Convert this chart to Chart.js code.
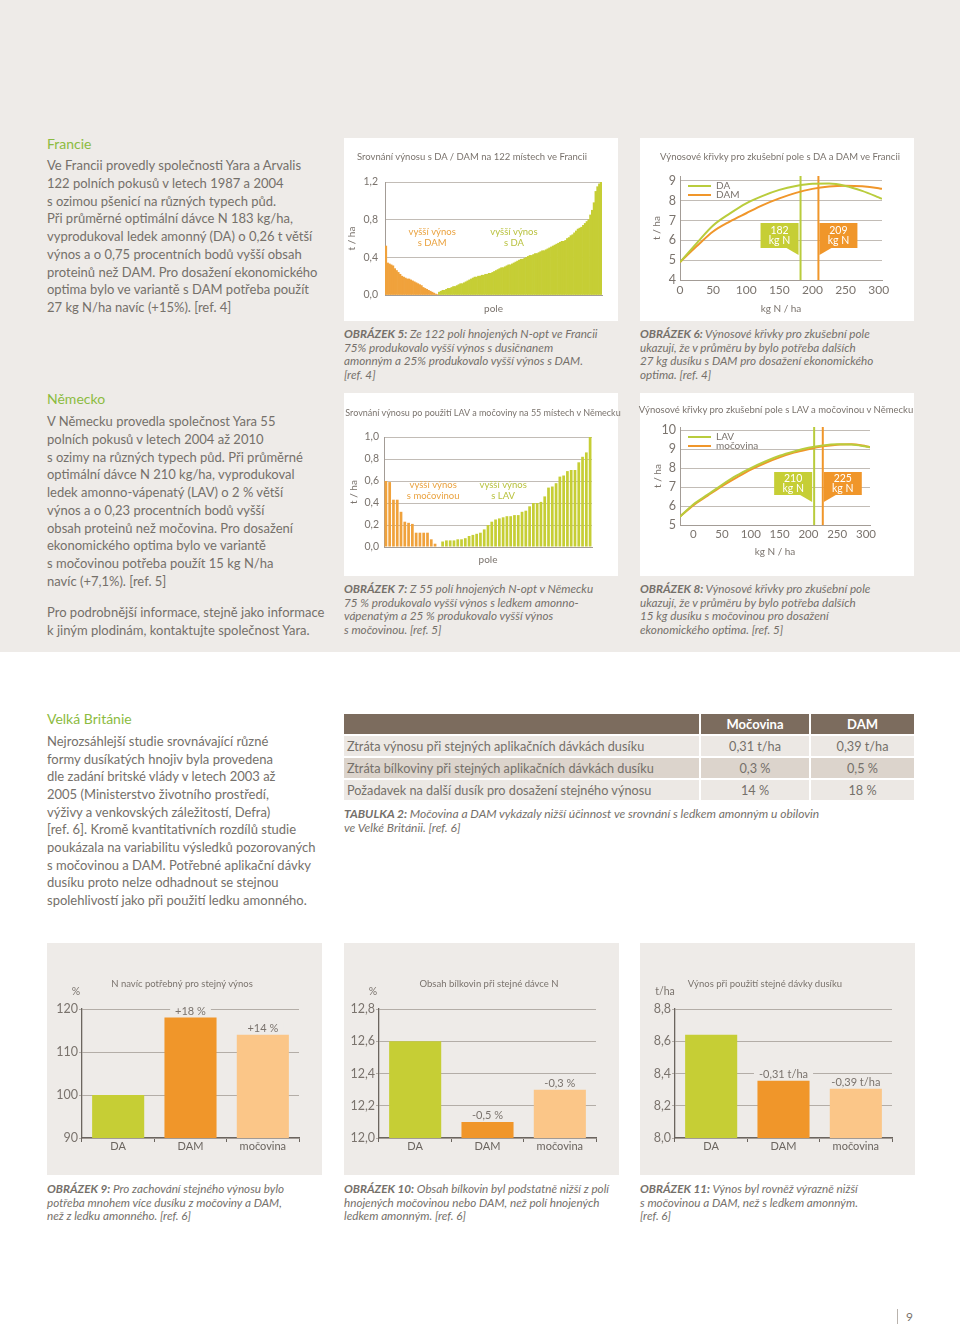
<!DOCTYPE html>
<html lang="cs">
<head>
<meta charset="utf-8">
<title>Močovina a DAM – srovnání s ledkem amonným</title>
<script src="https://cdn.jsdelivr.net/npm/chart.js@4.4.1/dist/chart.umd.min.js"></script>
<style>
  html, body { margin: 0; padding: 0; }
  body {
    width: 960px; height: 1328px; position: relative; overflow: hidden;
    background: #fff; color: #75706a;
    font-family: Lato, "Open Sans", sans-serif;
  }
  .abs { position: absolute; }
  .seda-plocha { left: 0; top: 0; width: 960px; height: 652px; background: #eeebe8; }
  .nadpis { font-size: 14px; line-height: 18px; color: #8cbb41; white-space: nowrap; }
  .text { font-size: 13px; line-height: 17.75px; white-space: nowrap; }
  .panel { background: #fff; }
  .panel-sedy { background: #eeebe8; }
  canvas { display: block; }
  .titulek { font-size: 9.5px; color: #7a736d; white-space: nowrap; transform: translate(-50%, -50%); }
  .jednotka { font-size: 10.5px; color: #7a736d; white-space: nowrap; transform: translate(-50%, -50%); }
  .popis { font-size: 11.7px; line-height: 13.6px; font-style: italic; white-space: nowrap; }
  .popis b { font-weight: bold; }
  .popis.siroky { font-size: 12px; }
  table.tab { border-collapse: separate; border-spacing: 0 2px; font-size: 12.7px; color: #75706a; }
  table.tab td, table.tab th { height: 20px; padding: 0; white-space: nowrap; }
  table.tab th { background: #7c6c5e; color: #fff; font-weight: bold; font-size: 13px; }
  table.tab td.c, table.tab th.c { text-align: center; border-left: 2px solid #fff; }
  table.tab td.l { padding-left: 3px; }
  table.tab tr.svetly td { background: #ece8e4; }
  table.tab tr.tmavy td { background: #dcd4cc; }
  .strana { font-size: 12px; color: #7a736d; }
</style>
</head>
<body>

<div class="abs seda-plocha"></div>

<!-- ── Levý sloupec: Francie / Německo ─────────────────────────── -->
<div class="abs nadpis" style="left:47px; top:135px">Francie</div>
<div class="abs text" style="left:47px; top:157px">Ve Francii provedly společnosti Yara a Arvalis<br>122 polních pokusů v letech 1987 a 2004<br>s ozimou pšenicí na různých typech půd.<br>Při průměrné optimální dávce N 183 kg/ha,<br>vyprodukoval ledek amonný (DA) o 0,26 t větší<br>výnos a o 0,75 procentních bodů vyšší obsah<br>proteinů než DAM. Pro dosažení ekonomického<br>optima bylo ve variantě s DAM potřeba použít<br>27 kg N/ha navíc (+15%). [ref. 4]</div>

<div class="abs nadpis" style="left:47px; top:390px">Německo</div>
<div class="abs text" style="left:47px; top:413px">V Německu provedla společnost Yara 55<br>polních pokusů v letech 2004 až 2010<br>s ozimy na různých typech půd. Při průměrné<br>optimální dávce N 210 kg/ha, vyprodukoval<br>ledek amonno-vápenatý (LAV) o 2 % větší<br>výnos a o 0,23 procentních bodů vyšší<br>obsah proteinů než močovina. Pro dosažení<br>ekonomického optima bylo ve variantě<br>s močovinou potřeba použít 15 kg N/ha<br>navíc (+7,1%). [ref. 5]</div>
<div class="abs text" style="left:47px; top:604px">Pro podrobnější informace, stejně jako informace<br>k jiným plodinám, kontaktujte společnost Yara.</div>

<!-- ── Grafy 5–8 ──────────────────────────────────────────────── -->
<div class="abs panel" style="left:344px; top:138px; width:274px; height:183px"><canvas id="obr5" width="274" height="183"></canvas></div>
<div class="abs panel" style="left:640px; top:138px; width:274px; height:183px"><canvas id="obr6" width="274" height="183"></canvas></div>
<div class="abs panel" style="left:344px; top:393px; width:274px; height:183px"><canvas id="obr7" width="274" height="183"></canvas></div>
<div class="abs panel" style="left:640px; top:393px; width:274px; height:183px"><canvas id="obr8" width="274" height="183"></canvas></div>

<div class="abs titulek" style="left:472px; top:156px">Srovnání výnosu s DA / DAM na 122 místech ve Francii</div>
<div class="abs titulek" style="left:780px; top:156px">Výnosové křivky pro zkušební pole s DA a DAM ve Francii</div>
<div class="abs titulek" style="left:483px; top:412px; font-size:9px">Srovnání výnosu po použití LAV a močoviny na 55 místech v Německu</div>
<div class="abs titulek" style="left:776px; top:409px">Výnosové křivky pro zkušební pole s LAV a močovinou v Německu</div>

<div class="abs popis" style="left:344px; top:327px"><b>OBRÁZEK 5:</b> Ze 122 polí hnojených N-opt ve Francii<br>75% produkovalo vyšší výnos s dusičnanem<br>amonným a 25% produkovalo vyšší výnos s DAM.<br>[ref. 4]</div>
<div class="abs popis" style="left:640px; top:327px"><b>OBRÁZEK 6:</b> Výnosové křivky pro zkušební pole<br>ukazují, že v průměru by bylo potřeba dalších<br>27 kg dusíku s DAM pro dosažení ekonomického<br>optima. [ref. 4]</div>
<div class="abs popis" style="left:344px; top:582px"><b>OBRÁZEK 7:</b> Z 55 polí hnojených N-opt v Německu<br>75 % produkovalo vyšší výnos s ledkem amonno-<br>vápenatým a 25 % produkovalo vyšší výnos<br>s močovinou. [ref. 5]</div>
<div class="abs popis" style="left:640px; top:582px"><b>OBRÁZEK 8:</b> Výnosové křivky pro zkušební pole<br>ukazují, že v průměru by bylo potřeba dalších<br>15 kg dusíku s močovinou pro dosažení<br>ekonomického optima. [ref. 5]</div>

<!-- ── Velká Británie + tabulka ───────────────────────────────── -->
<div class="abs nadpis" style="left:47px; top:710px">Velká Británie</div>
<div class="abs text" style="left:47px; top:733px; line-height:17.67px">Nejrozsáhlejší studie srovnávající různé<br>formy dusíkatých hnojiv byla provedena<br>dle zadání britské vlády v letech 2003 až<br>2005 (Ministerstvo životního prostředí,<br>výživy a venkovských záležitostí, Defra)<br>[ref. 6]. Kromě kvantitativních rozdílů studie<br>poukázala na variabilitu výsledků pozorovaných<br>s močovinou a DAM. Potřebné aplikační dávky<br>dusíku proto nelze odhadnout se stejnou<br>spolehlivostí jako při použití ledku amonného.</div>

<table class="abs tab" style="left:344px; top:712px; width:570px">
  <colgroup><col style="width:355px"><col style="width:110px"><col style="width:105px"></colgroup>
  <tr><th></th><th class="c">Močovina</th><th class="c">DAM</th></tr>
  <tr class="svetly"><td class="l">Ztráta výnosu při stejných aplikačních dávkách dusíku</td><td class="c">0,31 t/ha</td><td class="c">0,39 t/ha</td></tr>
  <tr class="tmavy"><td class="l">Ztráta bílkoviny při stejných aplikačních dávkách dusíku</td><td class="c">0,3 %</td><td class="c">0,5 %</td></tr>
  <tr class="svetly"><td class="l">Požadavek na další dusík pro dosažení stejného výnosu</td><td class="c">14 %</td><td class="c">18 %</td></tr>
</table>
<div class="abs popis siroky" style="left:344px; top:807px"><b>TABULKA 2:</b> Močovina a DAM vykázaly nižší účinnost ve srovnání s ledkem amonným u obilovin<br>ve Velké Británii. [ref. 6]</div>

<!-- ── Grafy 9–11 ─────────────────────────────────────────────── -->
<div class="abs panel-sedy" style="left:47px; top:943px; width:275px; height:232px"><canvas id="obr9" width="275" height="232"></canvas></div>
<div class="abs panel-sedy" style="left:344px; top:943px; width:275px; height:232px"><canvas id="obr10" width="275" height="232"></canvas></div>
<div class="abs panel-sedy" style="left:640px; top:943px; width:275px; height:232px"><canvas id="obr11" width="275" height="232"></canvas></div>

<div class="abs titulek" style="left:182px; top:983px">N navíc potřebný pro stejný výnos</div>
<div class="abs titulek" style="left:489px; top:983px">Obsah bílkovin při stejné dávce N</div>
<div class="abs titulek" style="left:765px; top:983px">Výnos při použití stejné dávky dusíku</div>
<div class="abs jednotka" style="left:76px; top:991px">%</div>
<div class="abs jednotka" style="left:373px; top:991px">%</div>
<div class="abs jednotka" style="left:665px; top:991px">t/ha</div>

<div class="abs popis" style="left:47px; top:1182px"><b>OBRÁZEK 9:</b> Pro zachování stejného výnosu bylo<br>potřeba mnohem více dusíku z močoviny a DAM,<br>než z ledku amonného. [ref. 6]</div>
<div class="abs popis" style="left:344px; top:1182px"><b>OBRÁZEK 10:</b> Obsah bílkovin byl podstatně nižší z polí<br>hnojených močovinou nebo DAM, než polí hnojených<br>ledkem amonným. [ref. 6]</div>
<div class="abs popis" style="left:640px; top:1182px"><b>OBRÁZEK 11:</b> Výnos byl rovněž výrazně nižší<br>s močovinou a DAM, než s ledkem amonným.<br>[ref. 6]</div>

<div class="abs" style="left:897px; top:1309px; width:1px; height:15px; background:#b9b3ad"></div>
<div class="abs strana" style="left:906px; top:1309px">9</div>

<script>
// ── Data ─────────────────────────────────────────────────────────────
// Obr. 5: rozdíl výnosu (t/ha), 122 polí ve Francii, seřazeno
const franceVyssiDAM = [0.52,0.34,0.33,0.32,0.31,0.28,0.26,0.24,0.22,0.20,
  0.19,0.18,0.17,0.17,0.16,0.15,0.14,0.13,0.12,0.11,
  0.10,0.08,0.07,0.06,0.05,0.04,0.03,0.02,0.01,0.005];
const franceVyssiDA = [0.03,0.04,0.05,0.05,0.06,0.07,0.07,0.08,0.09,0.09,
  0.10,0.11,0.12,0.12,0.13,0.14,0.15,0.16,0.17,0.18,
  0.19,0.19,0.20,0.20,0.21,0.21,0.22,0.22,0.23,0.23,
  0.24,0.25,0.26,0.27,0.28,0.29,0.29,0.30,0.31,0.32,
  0.32,0.33,0.34,0.35,0.36,0.37,0.38,0.38,0.39,0.40,
  0.41,0.42,0.42,0.43,0.44,0.44,0.45,0.46,0.47,0.47,
  0.48,0.49,0.50,0.51,0.52,0.53,0.54,0.55,0.56,0.57,
  0.57,0.58,0.60,0.61,0.63,0.64,0.66,0.68,0.70,0.71,
  0.72,0.74,0.76,0.78,0.80,0.85,0.90,0.98,1.10,1.15,
  1.18,1.20];

// Obr. 6: výnosové křivky Francie (t/ha)
const franceDavkaN   = [0, 25, 50, 75, 100, 125, 150, 175, 200, 225, 250, 275, 300, 305];
const franceVynosDA  = [4.9, 5.85, 6.75, 7.35, 7.87, 8.25, 8.55, 8.75, 8.86, 8.87, 8.75, 8.5, 8.17, 8.1];
const franceVynosDAM = [4.9, 5.7, 6.45, 6.95, 7.37, 7.78, 8.12, 8.4, 8.6, 8.72, 8.76, 8.73, 8.63, 8.6];
const franceOptima   = [182, 209];

// Obr. 7: rozdíl výnosu (t/ha), 55 polí v Německu
const nemeckoVyssiMocovina = [0.60,0.59,0.43,0.43,0.32,0.23,0.22,0.21,0.13,0.13,0.13,0.13,0.07,0.03,0.005];
const nemeckoVyssiLAV = [0.05,0.06,0.06,0.06,0.07,0.07,0.08,0.10,0.11,0.12,
  0.13,0.16,0.20,0.23,0.25,0.26,0.27,0.28,0.28,0.29,
  0.29,0.32,0.33,0.37,0.40,0.40,0.41,0.46,0.54,0.55,
  0.58,0.64,0.65,0.69,0.70,0.70,0.77,0.82,0.86,1.00];

// Obr. 8: výnosové křivky Německo (t/ha)
const nemeckoDavkaN        = [-23, 0, 25, 50, 75, 100, 125, 150, 175, 200, 225, 250, 275, 300, 307];
const nemeckoVynosLAV      = [5.44, 6.08, 6.6, 7.12, 7.6, 8.0, 8.35, 8.65, 8.88, 9.07, 9.2, 9.26, 9.25, 9.14, 9.1];
const nemeckoVynosMocovina = [5.44, 6.03, 6.55, 7.05, 7.5, 7.92, 8.27, 8.57, 8.82, 9.0, 9.15, 9.24, 9.26, 9.16, 9.12];
const nemeckoOptima        = [210, 225];

// Obr. 9–11: Velká Británie
const hnojiva          = ['DA', 'DAM', 'močovina'];
const dusikNavic       = [100, 118, 114];
const dusikPopisky     = ['', '+18 %', '+14 %'];
const bilkoviny        = [12.6, 12.1, 12.3];
const bilkovinyPopisky = ['', '-0,5 %', '-0,3 %'];
const vynosUK          = [8.64, 8.355, 8.305];
const vynosPopisky     = ['', '-0,31 t/ha', '-0,39 t/ha'];

// ── Styl ─────────────────────────────────────────────────────────────
const FONT = 'Lato, "Open Sans", sans-serif';
const C = {
  text: '#7a736d', textDark: '#6b655f',
  grid: '#c2bcb6', axis: '#a39c96', axisDark: '#6b655f',
  lime: '#c6ce35', limeLine: '#b9cc3c', limeText: '#b9c23f',
  orange: '#f0962a', orangeBar: '#f0a23c', orangeText: '#eaa23f',
  peach: '#fbc688', panel: '#eeebe8'
};

const carka = dec => v => Number(v).toFixed(dec).replace('.', ',');

// pevná šířka/výška osy -> plocha grafu sedí na pixel
function pevnaOsa(w, h) {
  return s => {
    if (w != null) s.width = w;
    if (h != null) s.height = h;
    s.paddingTop = s.paddingBottom = s.paddingLeft = s.paddingRight = 0;
  };
}

const BASE = () => ({
  responsive: false,
  animation: false,
  events: [],
  plugins: { legend: { display: false }, tooltip: { enabled: false } },
});

function osaTitulek(text, size, pad) {
  return { display: true, text, color: C.text, font: { family: FONT, size }, padding: pad };
}

// ── Pluginy ──────────────────────────────────────────────────────────
function popisky(items) {
  return {
    id: 'popisky',
    afterDatasetsDraw(chart) {
      const { ctx, scales: { x, y } } = chart;
      ctx.save();
      ctx.font = `9.5px ${FONT}`;
      ctx.textAlign = 'center';
      ctx.textBaseline = 'middle';
      items.forEach(it => {
        ctx.fillStyle = it.barva;
        const px = x.getPixelForValue(it.x), py = y.getPixelForValue(it.y);
        it.radky.forEach((r, i) => ctx.fillText(r, px, py + i * 11));
      });
      ctx.restore();
    }
  };
}

function stitkyOptima(items, w, h) {
  return {
    id: 'stitky',
    afterDatasetsDraw(chart) {
      const { ctx, scales: { x, y } } = chart;
      ctx.save();
      items.forEach(it => {
        const lx = x.getPixelForValue(it.x);
        const top = Math.round(y.getPixelForValue(it.y));
        const vlevo = it.strana === 'vlevo';
        const left = vlevo ? lx - 2 - w : lx + 1;
        ctx.fillStyle = it.barva;
        ctx.fillRect(left, top, w, h);
        ctx.beginPath();
        if (vlevo) { ctx.moveTo(lx - 14, top + h); ctx.lineTo(lx - 2, top + h); ctx.lineTo(lx - 2, top + h + 7); }
        else       { ctx.moveTo(lx + 1, top + h);  ctx.lineTo(lx + 13, top + h); ctx.lineTo(lx + 1, top + h + 7); }
        ctx.closePath();
        ctx.fill();
        ctx.fillStyle = '#fff';
        ctx.font = `10.5px ${FONT}`;
        ctx.textAlign = 'center';
        ctx.textBaseline = 'middle';
        ctx.fillText(it.radky[0], left + w / 2, top + h / 2 - 5);
        ctx.fillText(it.radky[1], left + w / 2, top + h / 2 + 5);
      });
      ctx.restore();
    }
  };
}

function legendaUvnitr(dx, dy, krok) {
  return {
    id: 'legendaUvnitr',
    afterDraw(chart) {
      const { ctx, chartArea } = chart;
      ctx.save();
      ctx.font = `10px ${FONT}`;
      ctx.textBaseline = 'middle';
      chart.data.datasets.filter(d => d.label).forEach((d, i) => {
        const yy = chartArea.top + dy + i * krok;
        const xx = chartArea.left + dx;
        ctx.strokeStyle = d.borderColor;
        ctx.lineWidth = 2;
        ctx.beginPath(); ctx.moveTo(xx, yy); ctx.lineTo(xx + 23, yy); ctx.stroke();
        ctx.fillStyle = C.text;
        ctx.fillText(d.label, xx + 28, yy);
      });
      ctx.restore();
    }
  };
}

function hodnotyNadSloupci(texty) {
  return {
    id: 'hodnoty',
    afterDatasetsDraw(chart) {
      const ctx = chart.ctx;
      ctx.save();
      ctx.font = `11px ${FONT}`;
      ctx.textAlign = 'center';
      ctx.textBaseline = 'middle';
      chart.getDatasetMeta(0).data.forEach((bar, i) => {
        const t = texty[i];
        if (!t) return;
        const w = ctx.measureText(t).width + 10;
        const yy = bar.y - 6;
        ctx.fillStyle = C.panel;
        ctx.fillRect(bar.x - w / 2, yy - 6, w, 11);
        ctx.fillStyle = C.text;
        ctx.fillText(t, bar.x, yy);
      });
      ctx.restore();
    }
  };
}

// ── Obr. 5 a 7: seřazené sloupce ─────────────────────────────────────
function razeneSloupce(id, vlevo, vpravo, o) {
  const poradi = vlevo.concat(vpravo).map((_, i) => i + 1);
  const dataVlevo  = vlevo.concat(vpravo.map(() => null));
  const dataVpravo = vlevo.map(() => null).concat(vpravo);
  return new Chart(document.getElementById(id), {
    type: 'bar',
    data: {
      labels: poradi,
      datasets: [
        { data: dataVlevo,  backgroundColor: C.orangeBar },
        { data: dataVpravo, backgroundColor: C.lime },
      ]
    },
    options: {
      ...BASE(),
      layout: { padding: { top: o.top, right: o.right, bottom: 0, left: 0 } },
      datasets: { bar: { barPercentage: o.bar, categoryPercentage: 1, grouped: false } },
      scales: {
        x: {
          ticks: { display: false },
          grid: { display: false, drawTicks: false },
          border: { color: C.axis },
          title: osaTitulek('pole', 10, { top: 0, bottom: o.poleBottom }),
          afterFit: pevnaOsa(null, o.xH),
        },
        y: {
          min: 0, max: o.max,
          ticks: { stepSize: o.step, color: C.text, font: { family: FONT, size: 10.5 }, padding: o.tickPad, callback: carka(1) },
          grid: { color: C.grid, drawTicks: false },
          border: { color: C.axis },
          title: osaTitulek('t / ha', 10, { top: o.thaTop, bottom: 0 }),
          afterFit: pevnaOsa(o.yW, null),
        }
      }
    },
    plugins: [popisky([
      { x: o.popisX[0], y: o.popisY, radky: ['vyšší výnos', o.popisVlevo], barva: C.orangeText },
      { x: o.popisX[1], y: o.popisY, radky: ['vyšší výnos', o.popisVpravo], barva: C.limeText },
    ])]
  });
}

razeneSloupce('obr5', franceVyssiDAM, franceVyssiDA, {
  top: 44, right: 16, xH: 26, yW: 41, max: 1.2, step: 0.4, tickPad: 7, bar: 1,
  poleBottom: 6, thaTop: 2,
  popisX: [26, 72], popisY: 0.67, popisVlevo: 's DAM', popisVpravo: 's DA'
});

razeneSloupce('obr7', nemeckoVyssiMocovina, nemeckoVyssiLAV, {
  top: 44, right: 26, xH: 29, yW: 40, max: 1.0, step: 0.2, tickPad: 5, bar: 0.72,
  poleBottom: 10, thaTop: 4,
  popisX: [12.5, 31], popisY: 0.56, popisVlevo: 's močovinou', popisVpravo: 's LAV'
});

// ── Obr. 6 a 8: výnosové křivky ──────────────────────────────────────
function vynosoveKrivky(id, davky, r1, r2, optima, o) {
  const body = r => davky.map((x, i) => ({ x, y: r[i] }));
  const svisla = x => [{ x, y: o.yMin }, { x, y: o.yMax }];
  return new Chart(document.getElementById(id), {
    type: 'line',
    data: {
      datasets: [
        { label: o.nazvy[0], data: body(r1), borderColor: C.limeLine, borderWidth: 2, pointRadius: 0, cubicInterpolationMode: 'monotone' },
        { label: o.nazvy[1], data: body(r2), borderColor: C.orange, borderWidth: 2, pointRadius: 0, cubicInterpolationMode: 'monotone' },
        { data: svisla(optima[0]), borderColor: C.limeLine, borderWidth: 2, pointRadius: 0 },
        { data: svisla(optima[1]), borderColor: C.orange, borderWidth: 2, pointRadius: 0 },
      ]
    },
    options: {
      ...BASE(),
      layout: { padding: { top: o.top, right: o.right, bottom: 0, left: 0 } },
      scales: {
        x: {
          type: 'linear', min: o.xMin, max: o.xMax,
          ticks: { stepSize: 50, includeBounds: false, color: C.text, font: { family: FONT, size: o.xFont }, padding: o.xPad, maxRotation: 0 },
          grid: { display: false, drawTicks: false },
          border: { color: C.axis },
          title: osaTitulek('kg N / ha', 10, { top: 0, bottom: o.kgBottom }),
          afterFit: pevnaOsa(null, o.xH),
        },
        y: {
          min: o.yMin, max: o.yMax,
          ticks: { stepSize: 1, includeBounds: false, color: C.text, font: { family: FONT, size: 12.5 }, padding: 4 },
          grid: { color: C.grid, drawTicks: false },
          border: { color: C.axis },
          title: osaTitulek('t / ha', 10, { top: o.thaTop, bottom: 0 }),
          afterFit: pevnaOsa(40, null),
        }
      }
    },
    plugins: [
      legendaUvnitr(8, 10, 9),
      stitkyOptima([
        { x: optima[0], y: o.stitekY, radky: [String(optima[0]), 'kg N'], barva: C.lime, strana: 'vlevo' },
        { x: optima[1], y: o.stitekY, radky: [String(optima[1]), 'kg N'], barva: C.orange, strana: 'vpravo' },
      ], 38, o.stitekH)
    ]
  });
}

vynosoveKrivky('obr6', franceDavkaN, franceVynosDA, franceVynosDAM, franceOptima, {
  nazvy: ['DA', 'DAM'], top: 38, right: 32, xH: 41, xMin: 0, xMax: 305, yMin: 4, yMax: 9.25,
  xFont: 12, xPad: 3, kgBottom: 6, thaTop: 11, stitekY: 6.86, stitekH: 25
});

vynosoveKrivky('obr8', nemeckoDavkaN, nemeckoVynosLAV, nemeckoVynosMocovina, nemeckoOptima, {
  nazvy: ['LAV', 'močovina'], top: 34, right: 44, xH: 51, xMin: -23, xMax: 307, yMin: 5, yMax: 10.17,
  xFont: 11.5, xPad: 2, kgBottom: 18, thaTop: 12, stitekY: 7.77, stitekH: 23
});

// ── Obr. 9–11: sloupce Velká Británie ────────────────────────────────
function sloupceUK(id, hodnoty, texty, min, max, step, dec) {
  return new Chart(document.getElementById(id), {
    type: 'bar',
    data: {
      labels: hnojiva,
      datasets: [{ data: hodnoty, backgroundColor: [C.lime, C.orange, C.peach] }]
    },
    options: {
      ...BASE(),
      layout: { padding: { top: 66, right: 23, bottom: 0, left: 0 } },
      datasets: { bar: { barPercentage: 0.72, categoryPercentage: 1 } },
      scales: {
        x: {
          ticks: { color: C.textDark, font: { family: FONT, size: 11 }, padding: -2 },
          grid: { offset: true, drawOnChartArea: false, tickLength: 4, color: C.axisDark },
          border: { color: C.axisDark, width: 1.3 },
          afterFit: pevnaOsa(null, 37),
        },
        y: {
          min, max,
          ticks: { stepSize: step, color: C.text, font: { family: FONT, size: 12.5 }, padding: 1, callback: carka(dec) },
          grid: { color: '#b3ada7', tickLength: 3 },
          border: { color: C.axisDark, width: 1.3 },
          afterFit: pevnaOsa(35, null),
        }
      }
    },
    plugins: [hodnotyNadSloupci(texty)]
  });
}

sloupceUK('obr9',  dusikNavic, dusikPopisky, 90, 120, 10, 0);
sloupceUK('obr10', bilkoviny, bilkovinyPopisky, 12.0, 12.8, 0.2, 1);
sloupceUK('obr11', vynosUK, vynosPopisky, 8.0, 8.8, 0.2, 1);
</script>
</body>
</html>
